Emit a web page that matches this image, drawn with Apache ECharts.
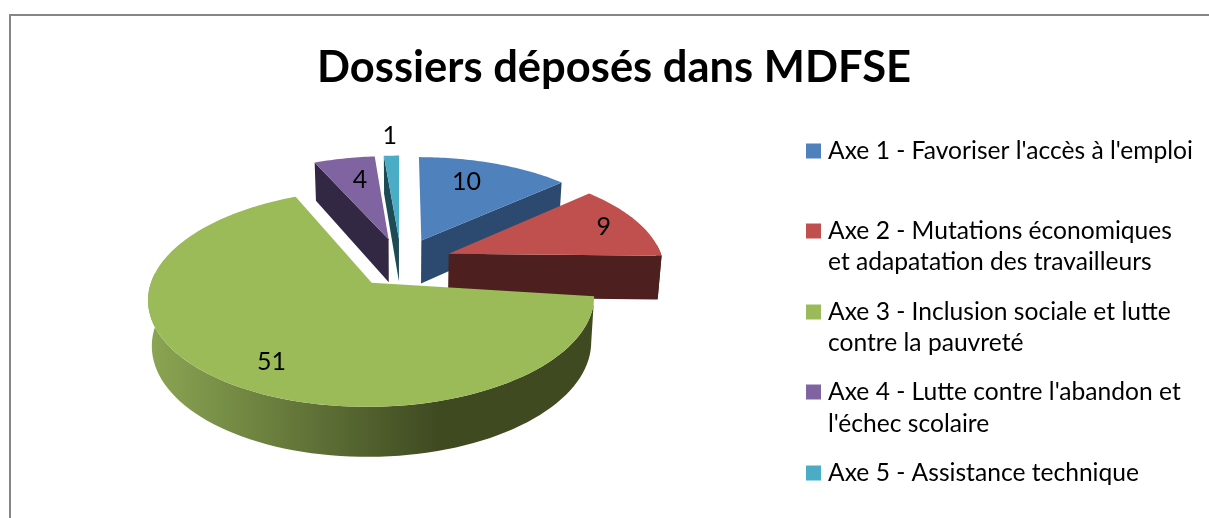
<!DOCTYPE html>
<html>
<head>
<meta charset="utf-8">
<title>Dossiers déposés dans MDFSE</title>
<script src="https://cdn.jsdelivr.net/npm/echarts@6/dist/echarts.min.js"></script>
<style>
html, body { margin: 0; padding: 0; background: #fff; }
#main { width: 1209px; height: 518px; }
</style>
</head>
<body>
<div id="main"></div>
<script>
var chartTitle = "Dossiers déposés dans MDFSE";
var categories = [
    "Axe 1 - Favoriser l'accès à l'emploi",
    "Axe 2 - Mutations économiques et adapatation des travailleurs",
    "Axe 3 - Inclusion sociale et lutte contre la pauvreté",
    "Axe 4 - Lutte contre l'abandon et l'échec scolaire",
    "Axe 5 - Assistance technique"
];
var legendLine1 = [
    "Axe 1 - Favoriser l'accès à l'emploi",
    "Axe 2 - Mutations économiques",
    "Axe 3 - Inclusion sociale et lutte",
    "Axe 4 - Lutte contre l'abandon et",
    "Axe 5 - Assistance technique"
];
var legendLine2 = ["", "et adapatation des travailleurs", "contre la pauvreté", "l'échec scolaire", ""];
var values = [10, 9, 51, 4, 1];

var topColors = ["#4f81bd", "#c0504d", "#9bbb59", "#8064a2", "#4bacc6"];
var sideColors = ["#2c4a70", "#4d1f1e", "#3f4a21", "#332843", "#1c4a55"];

// layout of the tilted pie (perspective disk, unit radius)
var cx = 401, cy = 262, ax = 214.6, by = 100.6, persp = 0.139;
var explode = 0.24;
var labelRadius = [0.72, 0.82, 0.78, 0.70, 1.28];
var labelTurn = [-4, 0, -3, 1.5, 0];
var startTrim = [0, 0, 6, 0, 0]; // the green cut sits a little lower in the picture
var drawOrder = [2, 3, 4, 0, 1]; // back slices first
var legendY = [151, 231, 312, 392, 473];
var secondLineY = [0, 262, 343, 424, 0];

var total = values.reduce(function (a, b) { return a + b; }, 0);

function rad(d) { return d * Math.PI / 180; }

// disk coords -> screen
function project(u, v) {
    var w = 1 - persp * v;
    return [cx + ax * u / w, cy + by * v / w];
}
// same point on the lower face of the pie
function lower(u, v) {
    var p = project(u, v);
    return [cx + (p[0] - cx) * 0.985, p[1] + 44 + 5 * v];
}

function sliceItem(index) {
    return function (params, api) {
        var before = values.slice(0, index).reduce(function (a, b) { return a + b; }, 0);
        var value = api.value(0);
        var a0 = before / total * 360;
        var a1 = a0 + value / total * 360;
        var mid = (a0 + a1) / 2;
        var start = a0 + startTrim[index];
        var u0 = explode * Math.sin(rad(mid));
        var v0 = -explode * Math.cos(rad(mid));
        var disk = function (deg, r) {
            return [u0 + r * Math.sin(rad(deg)), v0 - r * Math.cos(rad(deg))];
        };
        var children = [];

        function wall(deg) {
            var c = disk(deg, 1);
            children.push({
                type: "polygon",
                shape: { points: [project(u0, v0), project(c[0], c[1]), lower(c[0], c[1]), lower(u0, v0)] },
                style: { fill: sideColors[index] }
            });
        }
        if (Math.sin(rad(start)) < 0) wall(start);
        if (Math.sin(rad(a1)) > 0) wall(a1);

        // outer rim, only the part turned to the viewer
        var r0 = Math.max(start, 85), r1 = Math.min(a1, 275);
        if (r1 > r0) {
            var upper = [], under = [];
            for (var d = r0; d <= r1 + 0.001; d += (r1 - r0) / 80) {
                var q = disk(d, 1);
                upper.push(project(q[0], q[1]));
                under.unshift(lower(q[0], q[1]));
            }
            var rimFill = index === 2
                ? new echarts.graphic.LinearGradient(0, 0, 1, 0, [
                    { offset: 0, color: "#8ba653" },
                    { offset: 0.65, color: sideColors[2] },
                    { offset: 1, color: sideColors[2] }
                ])
                : sideColors[index];
            children.push({
                type: "polygon",
                shape: { points: upper.concat(under) },
                style: { fill: rimFill }
            });
        }

        // top face
        var pts = [project(u0, v0)];
        var n = Math.max(4, Math.round(a1 - start));
        for (var i = 0; i <= n; i++) {
            var t = disk(start + (a1 - start) * i / n, 1);
            pts.push(project(t[0], t[1]));
        }
        children.push({ type: "polygon", shape: { points: pts }, style: { fill: topColors[index] } });

        // value label
        var l = disk(mid + labelTurn[index], labelRadius[index]);
        var lp = project(l[0], l[1]);
        children.push({
            type: "text",
            style: {
                text: String(value), x: lp[0], y: lp[1],
                align: "center", verticalAlign: "middle",
                fill: "#000", font: "25px Lato"
            }
        });
        return { type: "group", children: children };
    };
}

var series = [], legends = [], graphics = [];

graphics.push({
    type: "rect",
    shape: { x: 10, y: 15, width: 1400, height: 700 },
    style: { fill: "none", stroke: "#868686", lineWidth: 2 },
    silent: true
});

categories.forEach(function (name, i) {
    series.push({
        type: "custom",
        name: name,
        coordinateSystem: "none",
        z: 2 + drawOrder[i],
        itemStyle: { color: topColors[i] },
        renderItem: sliceItem(i),
        data: [[values[i]]]
    });
    legends.push({
        data: [name],
        orient: "vertical",
        left: 806,
        top: legendY[i] - 14,
        padding: 0,
        itemWidth: 15,
        itemHeight: 15,
        selectedMode: false,
        icon: "rect",
        formatter: function () { return legendLine1[i]; },
        textStyle: { fontFamily: "Lato", fontSize: 24.6, color: "#000", lineHeight: 28, padding: [0, 0, 0, 2] }
    });
    if (legendLine2[i]) {
        graphics.push({
            type: "text",
            style: {
                text: legendLine2[i], x: 828, y: secondLineY[i],
                verticalAlign: "middle", fill: "#000", font: "24.6px Lato"
            }
        });
    }
});

var myChart = echarts.init(document.getElementById("main"), null, { renderer: "canvas" });
myChart.setOption({
    animation: false,
    backgroundColor: "#fff",
    title: {
        text: chartTitle,
        left: 317,
        top: 46,
        padding: 0,
        textStyle: { fontFamily: "Lato", fontWeight: "bold", fontSize: 43.5, color: "#000" }
    },
    tooltip: { show: false },
    legend: legends,
    graphic: graphics,
    series: series
});
</script>
</body>
</html>
